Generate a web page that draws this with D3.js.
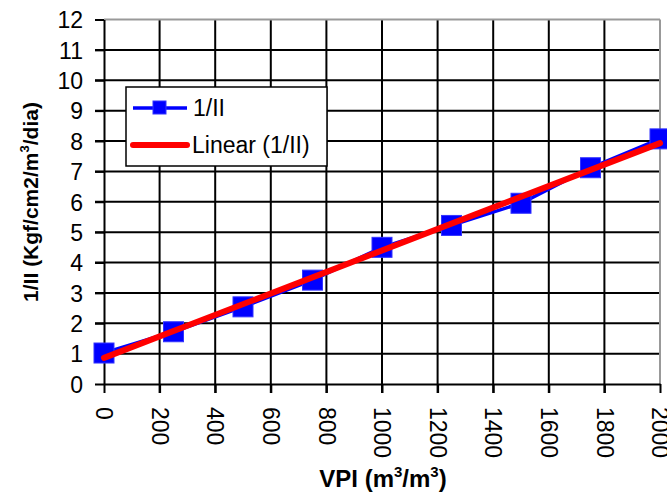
<!DOCTYPE html>
<html>
<head>
<meta charset="utf-8">
<script src="https://cdn.jsdelivr.net/npm/d3@7"></script>
<style>
body { margin: 0; background: #fff; }
text { font-family: "Liberation Sans", Arial, sans-serif; }
</style>
</head>
<body>
<script>
var vpi = [0, 250, 500, 750, 1000, 1250, 1500, 1750, 2000];
var invII = [1.02, 1.72, 2.54, 3.42, 4.5, 5.22, 5.95, 7.12, 8.07];
var xTicks = [0, 200, 400, 600, 800, 1000, 1200, 1400, 1600, 1800, 2000];
var yTicks = [0, 1, 2, 3, 4, 5, 6, 7, 8, 9, 10, 11, 12];
var seriesName = "1/II";
var trendName = "Linear (1/II)";

var W = 667, H = 492;
// plot area edges (don't call it "top", that's window.top)
var pLeft = 104, pRight = 660, pTop = 19.5, pBottom = 384;

var svg = d3.select('body').append('svg')
    .attr('width', W)
    .attr('height', H);

var x = d3.scaleLinear().domain([0, 2000]).range([pLeft, pRight]);
var y = d3.scaleLinear().domain([0, 12]).range([pBottom, pTop]);

// grid
svg.selectAll('.vg').data(xTicks.slice(1, -1)).enter().append('line')
    .attr('x1', d => x(d)).attr('x2', d => x(d))
    .attr('y1', pTop).attr('y2', pBottom + 9)
    .attr('stroke', '#000').attr('stroke-width', 2);
svg.selectAll('.hg').data(yTicks.slice(1, -1)).enter().append('line')
    .attr('x1', pLeft - 9).attr('x2', pRight)
    .attr('y1', d => y(d)).attr('y2', d => y(d))
    .attr('stroke', '#000').attr('stroke-width', 2);

// border top/right grey
svg.append('line').attr('x1', pLeft).attr('x2', pRight).attr('y1', pTop).attr('y2', pTop)
    .attr('stroke', '#999').attr('stroke-width', 2);
svg.append('line').attr('x1', pRight).attr('x2', pRight).attr('y1', pTop).attr('y2', pBottom)
    .attr('stroke', '#999').attr('stroke-width', 2);

// axes
var yAxis = svg.append('g').attr('transform', 'translate(' + pLeft + ',0)')
    .call(d3.axisLeft(y).tickValues(yTicks).tickSize(9).tickSizeOuter(0).tickPadding(12));
var xAxis = svg.append('g').attr('transform', 'translate(0,' + pBottom + ')')
    .call(d3.axisBottom(x).tickValues(xTicks).tickSize(9).tickSizeOuter(0).tickFormat(d3.format('d')));

[yAxis, xAxis].forEach(function (g) {
    g.attr('font-size', 23).attr('font-family', '"Liberation Sans", Arial, sans-serif');
    g.select('.domain').attr('stroke', '#000').attr('stroke-width', 2);
    g.selectAll('.tick line').attr('stroke', '#000').attr('stroke-width', 2);
    g.selectAll('text').attr('fill', '#000');
});
yAxis.selectAll('text').attr('dy', '0.36em');
xAxis.selectAll('text')
    .attr('text-anchor', 'start')
    .attr('transform', 'rotate(90)')
    .attr('x', 23).attr('y', 0).attr('dy', '0.36em');

// series
var pts = vpi.map((v, i) => [v, invII[i]]);
svg.append('path').datum(pts)
    .attr('d', d3.line().x(d => x(d[0])).y(d => y(d[1])))
    .attr('fill', 'none').attr('stroke', '#0000ff').attr('stroke-width', 3.5);
svg.selectAll('.mk').data(pts).enter().append('rect')
    .attr('x', d => x(d[0]) - 10).attr('y', d => y(d[1]) - 10)
    .attr('width', 20).attr('height', 20)
    .attr('fill', '#0000ff').attr('stroke', '#3333ff').attr('stroke-width', 1);

// linear trend (least squares)
var mx = d3.mean(vpi), my = d3.mean(invII);
var slope = d3.sum(vpi, (v, i) => (v - mx) * (invII[i] - my)) / d3.sum(vpi, v => (v - mx) * (v - mx));
var icpt = my - slope * mx;
svg.append('line')
    .attr('x1', x(0)).attr('y1', y(icpt))
    .attr('x2', x(2000)).attr('y2', y(icpt + slope * 2000))
    .attr('stroke', '#ff0000').attr('stroke-width', 6).attr('stroke-linecap', 'round');

// legend
var lg = svg.append('g');
lg.append('rect').attr('x', 126).attr('y', 87).attr('width', 201).attr('height', 79)
    .attr('fill', '#fff').attr('stroke', '#000').attr('stroke-width', 1.5);
lg.append('line').attr('x1', 133).attr('x2', 187).attr('y1', 108).attr('y2', 108)
    .attr('stroke', '#0000ff').attr('stroke-width', 3.5);
lg.append('rect').attr('x', 153).attr('y', 101).attr('width', 13).attr('height', 13)
    .attr('fill', '#0000ff').attr('stroke', '#3333ff');
lg.append('text').attr('x', 193).attr('y', 116).text(seriesName).style('font-size', '23px');
lg.append('line').attr('x1', 133).attr('x2', 187).attr('y1', 145).attr('y2', 145)
    .attr('stroke', '#ff0000').attr('stroke-width', 6).attr('stroke-linecap', 'round');
lg.append('text').attr('x', 192).attr('y', 153).text(trendName).style('font-size', '23px');

// axis titles
var xt = svg.append('text').attr('x', 383).attr('y', 487).attr('text-anchor', 'middle')
    .style('font-size', '24px').style('font-weight', 'bold');
xt.append('tspan').text('VPI (m');
xt.append('tspan').attr('dy', -10).style('font-size', '15px').text('3');
xt.append('tspan').attr('dy', 10).text('/m');
xt.append('tspan').attr('dy', -10).style('font-size', '15px').text('3');
xt.append('tspan').attr('dy', 10).text(')');

var yt = svg.append('text').attr('transform', 'translate(38,202) rotate(-90)')
    .attr('text-anchor', 'middle')
    .style('font-size', '21px').style('font-weight', 'bold');
yt.append('tspan').text('1/II (Kgf/cm2/m');
yt.append('tspan').attr('dy', -9).style('font-size', '13px').text('3');
yt.append('tspan').attr('dy', 9).text('/dia)');
</script>
</body>
</html>
